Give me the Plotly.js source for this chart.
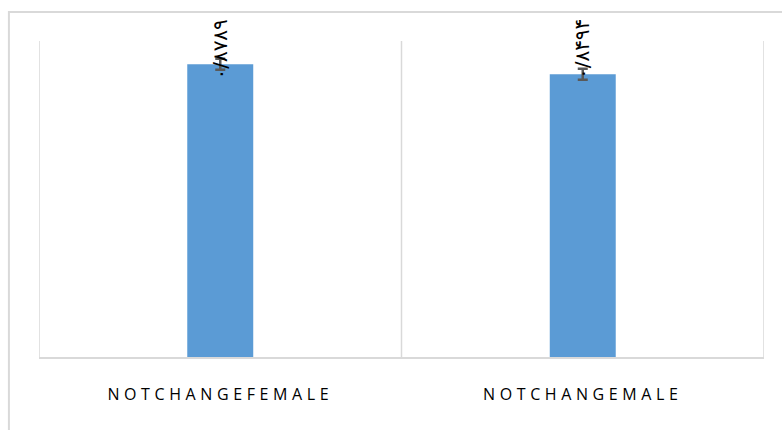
<!DOCTYPE html>
<html>
<head>
<meta charset="utf-8">
<script src="https://cdn.plot.ly/plotly-3.0.1.min.js"></script>
<style>
  html, body { margin: 0; padding: 0; background: #fff; }
  #chart { width: 782px; height: 430px; }
  .xtick text { letter-spacing: 4.6px; }
</style>
</head>
<body>
<div id="chart"></div>
<script>
const categories = ["NOTCHANGEFEMALE", "NOTCHANGEMALE"];
const values = [0.8789, 0.8494];
const errors = [0.0165, 0.0165];
const valueLabels = ["۰/۸۷۸۹", "۰/۸۴۹۴"];

const gridColor = "#d9d9d9";
const topLabelY = Math.max.apply(null, values);

const trace = {
  type: "bar",
  x: categories,
  y: values,
  marker: { color: "#5b9bd5" },
  error_y: { type: "data", array: errors, visible: true, color: "#595959", thickness: 2.5, width: 5 },
  hoverinfo: "none"
};

const annotations = categories.map((c, i) => ({
  x: c, y: topLabelY, xref: "x", yref: "y",
  text: valueLabels[i],
  textangle: -90,
  showarrow: false,
  yanchor: "bottom",
  xanchor: "center",
  yshift: -17,
  font: { family: "DejaVu Sans", size: 20, color: "#000000" }
}));

const shapes = [];
for (let k = 0; k <= categories.length; k++) {
  shapes.push({
    type: "line", xref: "x", yref: "paper",
    x0: k - 0.5, x1: k - 0.5, y0: 0, y1: 1,
    line: { color: gridColor, width: 1.5 },
    layer: "below"
  });
}
shapes.push({
  type: "rect", xref: "paper", yref: "paper",
  x0: -0.0415, x1: 1.2, y0: -0.4, y1: 1.0915,
  line: { color: gridColor, width: 2 },
  layer: "below"
});

const layout = {
  width: 782, height: 430,
  margin: { l: 39, r: 18, t: 41, b: 73, pad: 0 },
  paper_bgcolor: "#ffffff",
  plot_bgcolor: "#ffffff",
  showlegend: false,
  bargap: 0.818,
  xaxis: {
    type: "category",
    range: [-0.5, categories.length - 0.5],
    showgrid: false,
    zeroline: false,
    showline: true,
    linecolor: gridColor,
    linewidth: 2,
    ticks: "",
    ticklabelstandoff: 22,
    tickfont: { family: "Open Sans", size: 16, color: "#000000" },
    fixedrange: true
  },
  yaxis: {
    range: [0, 0.949],
    showgrid: false,
    zeroline: false,
    showline: false,
    showticklabels: false,
    ticks: "",
    fixedrange: true
  },
  shapes: shapes,
  annotations: annotations
};

Plotly.newPlot("chart", [trace], layout, { displayModeBar: false, staticPlot: true });
</script>
</body>
</html>
